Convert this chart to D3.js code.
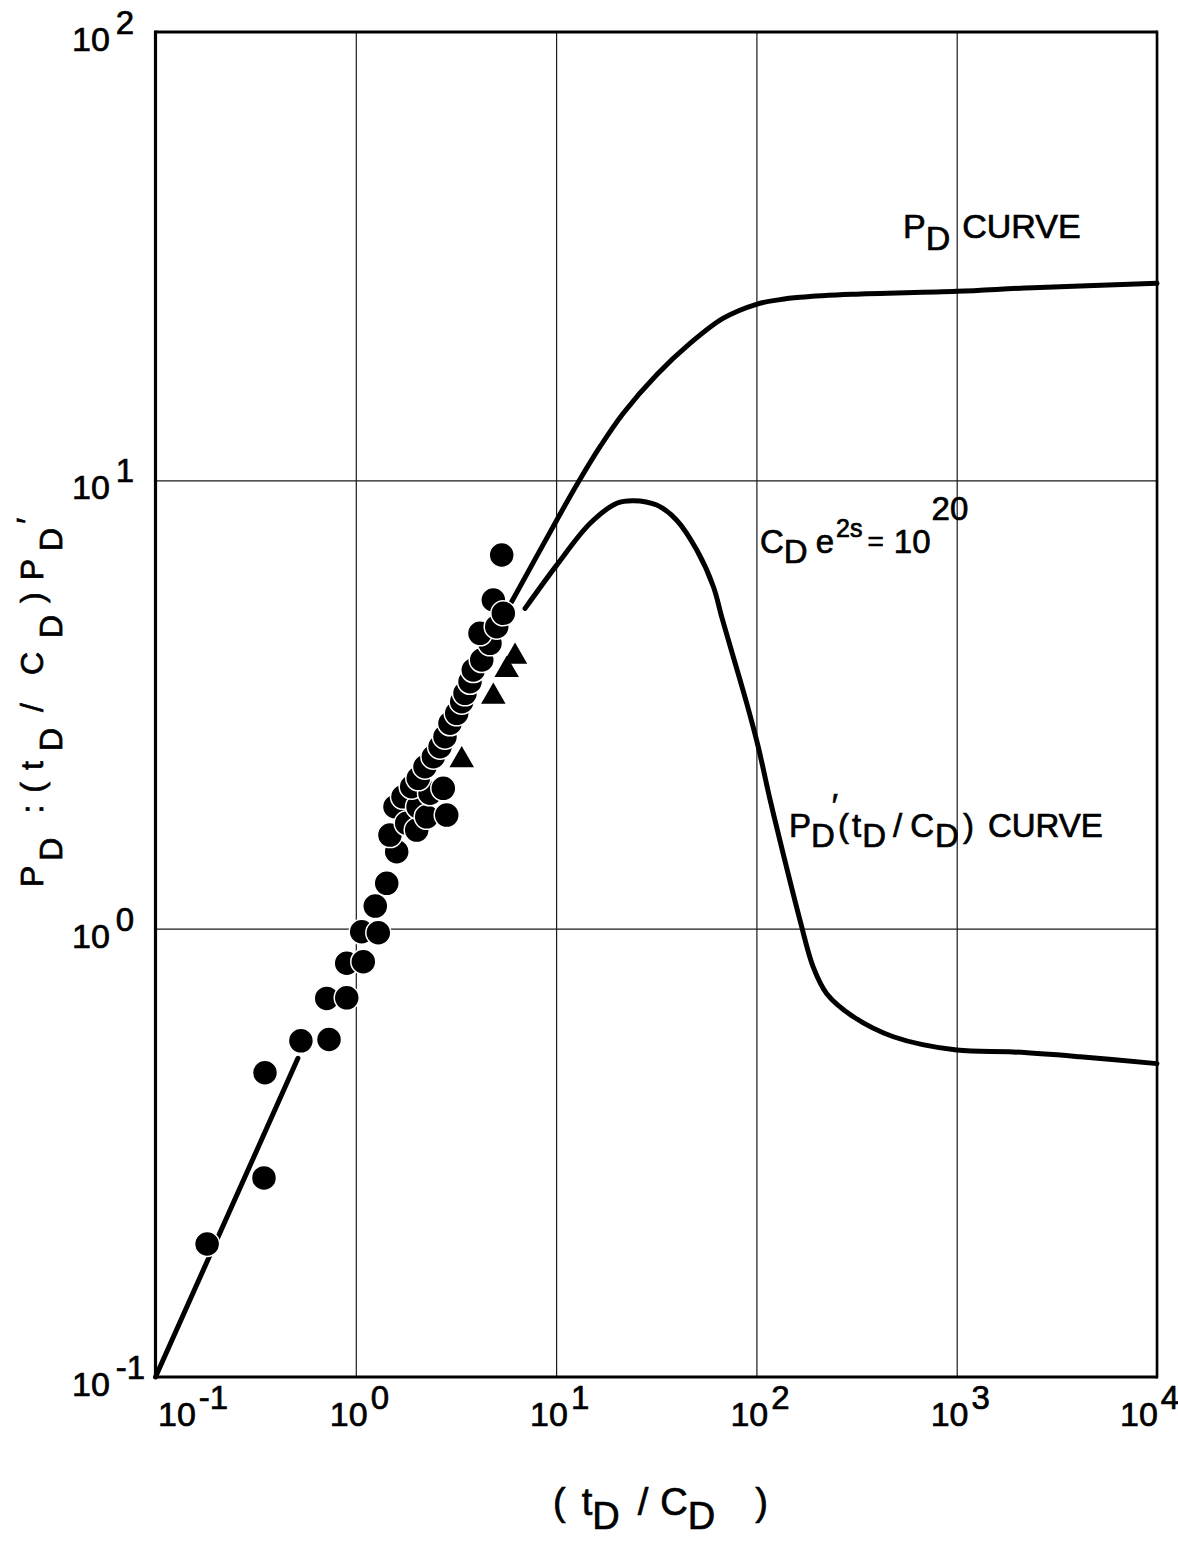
<!DOCTYPE html>
<html>
<head>
<meta charset="utf-8">
<script src="https://cdn.jsdelivr.net/npm/d3@7"></script>
<style>
  html, body { margin: 0; padding: 0; background: #fff; }
  text { font-family: "Liberation Sans", Arial, sans-serif; fill: #000; stroke: #000; stroke-width: 0.7px; }
</style>
</head>
<body>
<svg id="chart" width="1178" height="1541"></svg>
<script>
// Decade ticks on both logarithmic axes
const xTickValues = [1e-1, 1e0, 1e1, 1e2, 1e3, 1e4];
const xTickExponents = ["-1", "0", "1", "2", "3", "4"];
const yTickValues = [1e-1, 1e0, 1e1, 1e2];
const yTickExponents = ["-1", "0", "1", "2"];

// Early-time unit-slope segment (wellbore storage)
const unitSlopeT = [0.1, 0.514];
const unitSlopeP = [0.1, 0.514];

// P_D type curve, C_D e^2s = 10^20
const pdT = [6.0, 10.07, 12.9, 16.6, 21.6, 31.8, 46.6, 68.4, 100, 131, 165, 300, 1000, 2400, 10000];
const pdP = [5.36, 8.15, 9.9, 11.9, 14.1, 17.2, 20.2, 23.0, 24.7, 25.3, 25.6, 26.0, 26.4, 26.9, 27.5];

// Derivative curve P_D'(t_D/C_D)
const derivT = [7.0, 10.07, 14.8, 20.1, 24.3, 31.8, 40.0, 50.4, 61.0, 67.1, 73.8, 89.5, 102, 117, 136, 165, 192, 224, 305, 483, 1000, 1917, 4127, 10000];
const derivP = [5.18, 6.47, 8.02, 8.89, 9.01, 8.81, 8.15, 6.99, 5.79, 4.96, 4.28, 3.18, 2.55, 1.94, 1.47, 1.045, 0.822, 0.717, 0.636, 0.574, 0.536, 0.531, 0.518, 0.50];

// Field data, pressure change (circles)
const circT = [0.181, 0.348, 0.352, 0.532, 0.735, 0.716, 0.901, 0.901, 1.090, 1.070,
               1.295, 1.251, 1.427, 1.600, 1.481, 1.569, 1.795, 1.720, 2.014, 2.045,
               1.901, 2.259, 2.347, 2.051, 2.215, 2.438, 2.734, 2.844, 2.633, 2.788,
               2.953, 3.190, 3.379, 3.509, 3.716, 3.860, 4.253, 4.677, 4.169, 5.052,
               4.860, 5.450, 5.351];
const circP = [0.198, 0.278, 0.477, 0.562, 0.566, 0.699, 0.701, 0.837, 0.844, 0.984,
               0.979, 1.123, 1.262, 1.484, 1.617, 1.870, 1.718, 1.968, 1.659, 1.870,
               2.073, 1.776, 2.004, 2.164, 2.297, 2.418, 2.056, 1.792, 2.546, 2.680,
               2.871, 3.022, 3.208, 3.349, 3.553, 3.775, 3.974, 4.329, 4.557, 4.715,
               5.408, 5.051, 6.815];

// Field data, derivative (triangles)
const triT = [6.235, 5.667, 4.860, 3.379];
const triP = [4.042, 3.775, 3.291, 2.377];

const svg = d3.select("#chart");
const plotLeft = 155.5, plotRight = 1157, plotTop = 32, plotBottom = 1377;

const x = d3.scaleLog().domain([1e-1, 1e4]).range([plotLeft, plotRight]);
const y = d3.scaleLog().domain([1e-1, 1e2]).range([plotBottom, plotTop]);

// Grid lines through the axis generators
const gx = svg.append("g").attr("transform", `translate(0,${plotBottom})`)
  .call(d3.axisBottom(x).tickValues(xTickValues).tickSize(-(plotBottom - plotTop)).tickFormat(""));
const gy = svg.append("g").attr("transform", `translate(${plotLeft},0)`)
  .call(d3.axisLeft(y).tickValues(yTickValues).tickSize(-(plotRight - plotLeft)).tickFormat(""));
[gx, gy].forEach(g => {
  g.select(".domain").remove();
  g.selectAll(".tick line").attr("stroke", "#1a1a1a").attr("stroke-width", 1.2);
});

// Plot frame
const frame = svg.append("g").attr("stroke", "#000").attr("fill", "none");
frame.append("line").attr("x1", plotLeft).attr("x2", plotRight).attr("y1", plotTop).attr("y2", plotTop).attr("stroke-width", 3);
frame.append("line").attr("x1", plotLeft).attr("x2", plotRight).attr("y1", plotBottom).attr("y2", plotBottom).attr("stroke-width", 3.2);
frame.append("line").attr("x1", plotLeft).attr("x2", plotLeft).attr("y1", plotTop - 1.5).attr("y2", plotBottom + 1.5).attr("stroke-width", 3.2);
frame.append("line").attr("x1", plotRight).attr("x2", plotRight).attr("y1", plotTop - 1.5).attr("y2", plotBottom + 1.5).attr("stroke-width", 2.6);

// Rich text helper: segments with vertical shifts (positive = down)
function richText(parent, px, py, size, segs, attrs) {
  const t = parent.append("text").attr("x", px).attr("y", py).attr("font-size", size);
  if (attrs) Object.entries(attrs).forEach(([k, v]) => t.attr(k, v));
  let cur = 0;
  segs.forEach(s => {
    const sh = s.shift || 0;
    const ts = t.append("tspan").text(s.t).attr("dy", sh - cur);
    if (s.dx) ts.attr("dx", s.dx);
    if (s.size) ts.attr("font-size", s.size);
    cur = sh;
  });
  return t;
}

// X tick labels
xTickValues.forEach((v, i) => {
  const px = Math.min(Math.max(x(v) - 26, 158), 1120);
  richText(svg, px, 1426, 34, [{ t: "10" }, { t: xTickExponents[i], shift: -17, size: 33, dx: 3 }]);
});

// Y tick labels
yTickValues.forEach((v, i) => {
  richText(svg, 72, y(v) + 19, 34, [{ t: "10" }, { t: yTickExponents[i], shift: -17, size: 33, dx: 6 }]);
});

// Curves
const line = (ts, ps) => d3.line()
  .x((d, i) => x(ts[i])).y((d, i) => y(ps[i]))
  .curve(d3.curveCatmullRom.alpha(0.5))(ts);

const curves = svg.append("g").attr("fill", "none").attr("stroke", "#000")
  .attr("stroke-width", 5).attr("stroke-linecap", "round").attr("stroke-linejoin", "round");
curves.append("path").attr("d", line(unitSlopeT, unitSlopeP));
curves.append("path").attr("d", line(pdT, pdP));
curves.append("path").attr("d", line(derivT, derivP));

// Data points
svg.append("g").selectAll("circle").data(circT).join("circle")
  .attr("cx", (d, i) => x(circT[i])).attr("cy", (d, i) => y(circP[i]))
  .attr("r", 12.5).attr("fill", "#000").attr("stroke", "#fff").attr("stroke-width", 1.5);

svg.append("g").selectAll("path").data(triT).join("path")
  .attr("transform", (d, i) => `translate(${x(triT[i])},${y(triP[i])})`)
  .attr("d", d3.symbol(d3.symbolTriangle, 260)())
  .attr("fill", "#000");

// Annotations
richText(svg, 903, 238, 34, [{ t: "P" }, { t: "D", shift: 12 }, { t: "CURVE", shift: 0, dx: 12 }]);

richText(svg, 760, 553, 33, [
  { t: "C" }, { t: "D", shift: 10 }, { t: "e", shift: 0, dx: 8 },
  { t: "2s", shift: -16, size: 25, dx: 2 }, { t: "=", shift: -2, size: 28, dx: 5 },
  { t: "10", shift: 0, dx: 10 }, { t: "20", shift: -33, dx: 1 }
]);

richText(svg, 789, 837, 33, [
  { t: "P" }, { t: "D", shift: 10 }, { t: "\u2032", shift: -20, dx: -3 },
  { t: "(", shift: 0, dx: 0 }, { t: "t", dx: 3 }, { t: "D", shift: 10, dx: 1 },
  { t: "/", shift: 0, dx: 7 }, { t: "C", dx: 8 }, { t: "D", shift: 10, dx: 1 },
  { t: ")", shift: 0, dx: 4 }, { t: "CURVE", dx: 14 }
]);

// Axis titles
richText(svg, 553, 1515, 38, [
  { t: "(" }, { t: "t", dx: 16 }, { t: "D", shift: 14 }, { t: "/", shift: 0, dx: 18 },
  { t: "C", dx: 12 }, { t: "D", shift: 14 }, { t: ")", shift: 0, dx: 40 }
]);

richText(svg, 0, 0, 32, [
  { t: "P" }, { t: "D", shift: 19, dx: 5 }, { t: ":", shift: 0, dx: 24 }, { t: "(", dx: 12 },
  { t: "t", dx: 12 }, { t: "D", shift: 19, dx: 10 }, { t: "/", shift: 0, dx: 16 }, { t: "C", dx: 28 },
  { t: "D", shift: 19, dx: 14 }, { t: ")", shift: 0, dx: 12 }, { t: "P", dx: 12 },
  { t: "D", shift: 19, dx: 8 }, { t: "\u2032", shift: -4, dx: 4 }
], { transform: "translate(43,887) rotate(-90)" });
</script>
</body>
</html>
